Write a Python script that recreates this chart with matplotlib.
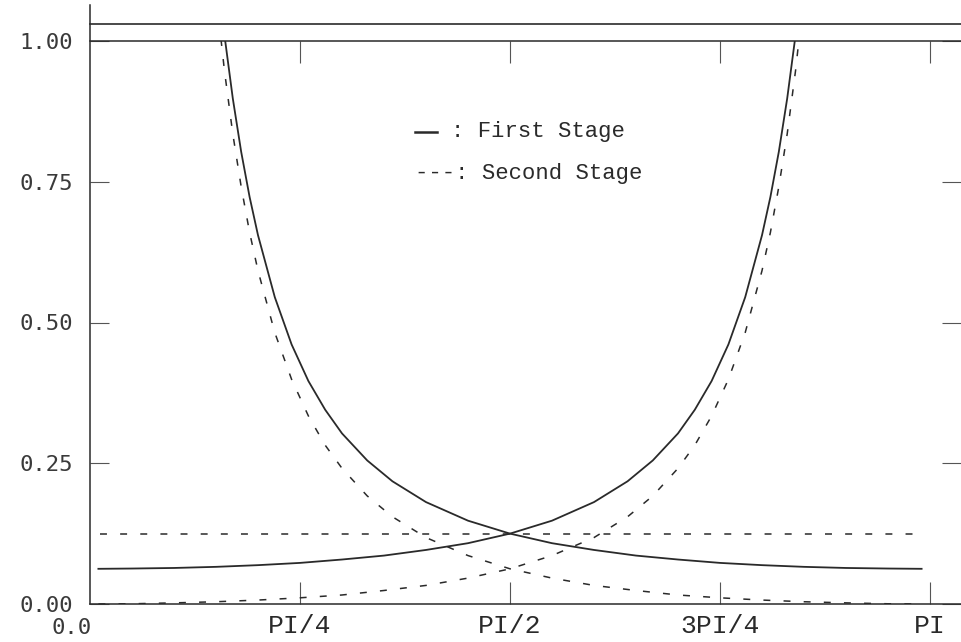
import matplotlib.pyplot as plt
from matplotlib.lines import Line2D

# x in units of PI
x_down = [0.15, 0.16, 0.17, 0.18, 0.19, 0.20, 0.22, 0.24, 0.26, 0.28, 0.30, 0.33, 0.36,
          0.40, 0.45, 0.50, 0.55, 0.60, 0.65, 0.70, 0.75, 0.80, 0.85, 0.90, 0.95, 0.99]
first_down = [1.147, 1.011, 0.898, 0.803, 0.723, 0.655, 0.545, 0.461, 0.396, 0.345, 0.303,
              0.255, 0.218, 0.181, 0.148, 0.125, 0.108, 0.096, 0.086, 0.079, 0.073, 0.069,
              0.066, 0.064, 0.063, 0.0625]
second_down = [1.084, 0.948, 0.835, 0.741, 0.660, 0.592, 0.482, 0.399, 0.334, 0.282, 0.241,
               0.192, 0.155, 0.118, 0.086, 0.0625, 0.046, 0.033, 0.024, 0.016, 0.011, 0.007,
               0.004, 0.002, 0.0004, 0.0]

x_up = [0.01, 0.05, 0.10, 0.15, 0.20, 0.25, 0.30, 0.35, 0.40, 0.45, 0.50, 0.55, 0.60,
        0.64, 0.67, 0.70, 0.72, 0.74, 0.76, 0.78, 0.80, 0.81, 0.82, 0.83, 0.84, 0.85]
first_up = [0.0625, 0.063, 0.064, 0.066, 0.069, 0.073, 0.079, 0.086, 0.096, 0.108, 0.125,
            0.148, 0.181, 0.218, 0.255, 0.303, 0.345, 0.396, 0.461, 0.545, 0.655, 0.723,
            0.803, 0.898, 1.011, 1.147]
second_up = [0.0, 0.0004, 0.002, 0.004, 0.007, 0.011, 0.016, 0.024, 0.033, 0.046, 0.0625,
             0.086, 0.118, 0.155, 0.192, 0.241, 0.282, 0.334, 0.399, 0.482, 0.592, 0.660,
             0.741, 0.835, 0.948, 1.084]

level = 0.125
level_span = [0.012, 0.99]
top_line = 1.03

x_ticks = [0.25, 0.5, 0.75, 1.0]
x_labels = ['PI/4', 'PI/2', '3PI/4', 'PI']
y_ticks = [0.0, 0.25, 0.5, 0.75, 1.0]
y_labels = ['0.00', '0.25', '0.50', '0.75', '1.00']

ink = '#2a2a2a'
dash = (0, (5, 9.5))
plt.rcParams['lines.scale_dashes'] = False

fig = plt.figure(figsize=(9.61, 6.42), dpi=100)
ax = fig.add_axes([90/961, 38/642, 871/961, 563/642])
ax.set_xlim(0, 871/840)
ax.set_ylim(0, 1)

ax.plot(x_down, first_down, color=ink, lw=1.3)
ax.plot(x_up, first_up, color=ink, lw=1.3)
ax.plot(x_down, second_down, color=ink, lw=1.1, linestyle=dash)
ax.plot(x_up, second_up, color=ink, lw=1.1, linestyle=dash)
ax.hlines(level, level_span[0], level_span[1], color=ink, lw=1.1, linestyles=[dash])
ax.axhline(top_line, color=ink, lw=1.2, clip_on=False)

for s in ['left', 'bottom', 'top']:
    ax.spines[s].set_color(ink)
    ax.spines[s].set_linewidth(1.1)
ax.spines['right'].set_visible(False)
ax.spines['left'].set_bounds(0, 1.064)

ax.set_xticks(x_ticks)
ax.set_xticklabels(x_labels)
ax.tick_params(axis='x', direction='in', top=True, length=16, width=0.8, color='#555555',
               pad=7, labelsize=19, labelcolor=ink)
for t in ax.get_xticklabels():
    t.set_fontfamily('Liberation Mono')

ax.set_yticks(y_ticks)
ax.set_yticklabels(y_labels)
ax.tick_params(axis='y', direction='in', right=True, length=14, width=0.8, color='#555555',
               pad=12, labelsize=16, labelcolor='#3a3a3a')
for t in ax.get_yticklabels():
    t.set_fontfamily('DejaVu Sans Mono')

fig.text(92/961, 1 - 628/642, '0.0', ha='right', va='center', fontsize=16,
         family='DejaVu Sans Mono', color='#3a3a3a')

# legend drawn as text, like the original plotter output
fig.add_artist(Line2D([415/961, 437/961], [1 - 132/642, 1 - 132/642], color=ink, lw=1.8))
fig.text(451/961, 1 - 132/642, ': First Stage', ha='left', va='center', fontsize=16,
         family='Liberation Mono', color=ink)
fig.text(415/961, 1 - 173/642, '---: Second Stage', ha='left', va='center', fontsize=16,
         family='Liberation Mono', color=ink)

fig.savefig('out.png', dpi=100)
